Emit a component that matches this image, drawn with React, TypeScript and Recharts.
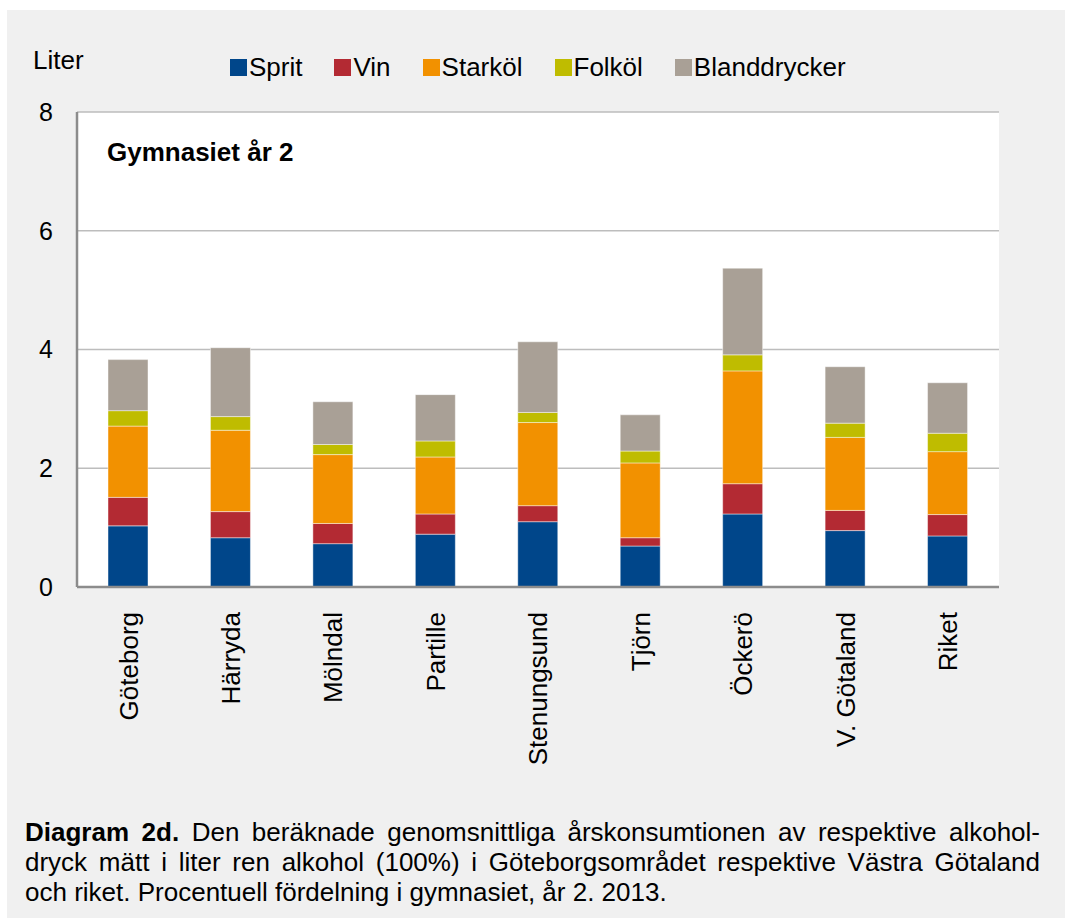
import { BarChart, Bar, XAxis, YAxis, CartesianGrid } from 'recharts';

const kommuner = ['Göteborg', 'Härryda', 'Mölndal', 'Partille', 'Stenungsund', 'Tjörn', 'Öckerö', 'V. Götaland', 'Riket'];
const sprit = [1.03, 0.83, 0.73, 0.89, 1.1, 0.69, 1.23, 0.95, 0.86];
const vin = [0.48, 0.44, 0.34, 0.34, 0.27, 0.14, 0.51, 0.34, 0.36];
const starkol = [1.2, 1.37, 1.16, 0.96, 1.4, 1.26, 1.9, 1.23, 1.06];
const folkol = [0.26, 0.23, 0.17, 0.27, 0.17, 0.2, 0.27, 0.24, 0.31];
const bland = [0.86, 1.16, 0.72, 0.78, 1.19, 0.61, 1.46, 0.95, 0.85];
const yTicks = [0, 2, 4, 6, 8];

const series = [
  { key: 'sprit', name: 'Sprit', color: '#00468a' },
  { key: 'vin', name: 'Vin', color: '#b32a33' },
  { key: 'starkol', name: 'Starköl', color: '#f29100' },
  { key: 'folkol', name: 'Folköl', color: '#bfbc00' },
  { key: 'bland', name: 'Blanddrycker', color: '#a9a096' },
];

const data = kommuner.map((name, i) => ({
  name,
  sprit: sprit[i],
  vin: vin[i],
  starkol: starkol[i],
  folkol: folkol[i],
  bland: bland[i],
}));

const font = '"Liberation Sans", Arial, sans-serif';

function KommunTick({ x, y, payload }: any) {
  return (
    <text
      transform={`translate(${x},${y + 17}) rotate(-90)`}
      textAnchor="end"
      dy="0.36em"
      fontSize={26}
      fontFamily={font}
      fill="#000"
    >
      {payload.value}
    </text>
  );
}

// legend kept outside the chart so it doesn't push the plot down
function LegendRow() {
  return (
    <div style={{ display: 'flex', alignItems: 'center', fontFamily: font, fontSize: 26, lineHeight: '30px', color: '#000' }}>
      {series.map((s) => (
        <div key={s.key} style={{ display: 'flex', alignItems: 'center', marginRight: 32 }}>
          <span style={{ width: 17, height: 17, background: s.color, marginRight: 2, display: 'inline-block' }} />
          <span>{s.name}</span>
        </div>
      ))}
    </div>
  );
}

const lineStyle = { textAlignLast: 'justify' as const, whiteSpace: 'nowrap' as const };

export default function App() {
  return (
    <div style={{ position: 'absolute', left: 0, top: 0, width: 1065, height: 923, background: '#fff' }}>
      <div style={{ position: 'absolute', left: 7, top: 10, width: 1058, height: 908, background: '#f0f0f0' }} />
      <div style={{ position: 'absolute', left: 0, top: 0 }}>
        <BarChart
          width={1065}
          height={780}
          data={data}
          margin={{ top: 112, right: 66, bottom: 0, left: 17 }}
          barSize={40}
        >
          <CartesianGrid vertical={false} stroke="#bdbdbd" strokeWidth={1.5} fill="#ffffff" />
          <XAxis
            dataKey="name"
            height={193}
            interval={0}
            tickLine={false}
            axisLine={{ stroke: '#8c8c8c', strokeWidth: 2.5 }}
            tick={<KommunTick />}
          />
          <YAxis
            domain={[0, 8]}
            ticks={yTicks}
            width={60}
            tickLine={false}
            tickSize={0}
            tickMargin={24}
            axisLine={{ stroke: '#8c8c8c', strokeWidth: 2.5 }}
            tick={{ fontSize: 25, fontFamily: font, fill: '#000' }}
          />
          <YAxis
            yAxisId="right"
            orientation="right"
            domain={[0, 8]}
            width={0}
            tick={false}
            tickLine={false}
            axisLine={{ stroke: '#a6a6a6', strokeWidth: 2.5 }}
          />
          {series.map((s) => (
            <Bar
              key={s.key}
              dataKey={s.key}
              name={s.name}
              stackId="a"
              fill={s.color}
              stroke="#ffffff"
              strokeOpacity={0.45}
              strokeWidth={1}
              isAnimationActive={false}
            />
          ))}
        </BarChart>
      </div>
      <div style={{ position: 'absolute', left: 230, top: 52 }}>
        <LegendRow />
      </div>
      <div style={{ position: 'absolute', left: 33, top: 45, fontFamily: font, fontSize: 26 }}>Liter</div>
      <div style={{ position: 'absolute', left: 107, top: 137, fontFamily: font, fontSize: 26, fontWeight: 'bold' }}>
        Gymnasiet år 2
      </div>
      <div
        style={{
          position: 'absolute',
          left: 25,
          top: 817,
          width: 1015,
          fontFamily: font,
          fontSize: 26,
          lineHeight: '30px',
          color: '#000',
        }}
      >
        <div style={lineStyle}>
          <b>Diagram 2d.</b> Den beräknade genomsnittliga årskonsumtionen av respektive alkohol-
        </div>
        <div style={lineStyle}>
          dryck mätt i liter ren alkohol (100%) i Göteborgsområdet respektive Västra Götaland
        </div>
        <div>och riket. Procentuell fördelning i gymnasiet, år 2. 2013.</div>
      </div>
    </div>
  );
}
